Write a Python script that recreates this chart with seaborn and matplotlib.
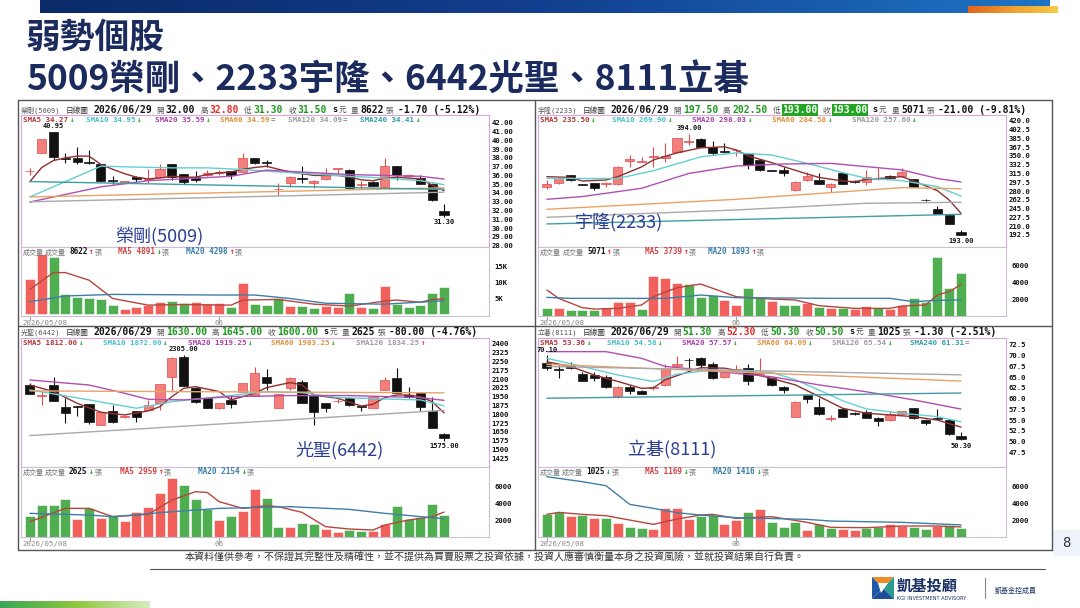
import numpy as np
import pandas as pd
import matplotlib
matplotlib.use("Agg")
import matplotlib.pyplot as plt
import seaborn as sns
from matplotlib.colors import LinearSegmentedColormap
from matplotlib.patches import Rectangle, Polygon
from matplotlib.lines import Line2D

# ------------------------------------------------------------------ DATA
title_1 = "弱勢個股"
title_2 = "5009榮剛、2233宇隆、6442光聖、8111立碁"
disclaimer = "本資料僅供參考，不保證其完整性及精確性，並不提供為買賣股票之投資依據，投資人應審慎衡量本身之投資風險，並就投資結果自行負責。"
date_str = "2026/06/29"
x_tick_pos = [0, 16]
x_tick_lab = ["2026/05/08", "06"]

# ---- 榮剛(5009)
p1_name = "榮剛(5009)"
p1_open = [36.45, 38.6, 40.95, 38.0, 38.0, 37.5, 37.3, 35.5, 35.25, 35.8, 35.45, 35.8, 37.25, 36.15, 35.8, 36.0, 36.25, 36.5,
           36.4, 37.95, 37.5, 34.4, 35.1, 35.7, 35.15, 35.6, 36.7, 36.65, 34.95, 35.3, 34.7, 37.05, 35.95, 35.7, 35.0, 32.0]
p1_high = [36.8, 40.2, 40.95, 38.6, 39.2, 38.9, 37.3, 35.9, 35.4, 35.9, 36.7, 37.25, 37.25, 36.15, 36.5, 36.65, 36.6, 36.5,
           38.6, 38.0, 37.8, 35.1, 35.9, 37.05, 35.5, 36.9, 36.85, 36.7, 35.4, 35.35, 37.95, 37.05, 36.2, 36.0, 35.1, 32.8]
p1_low = [36.1, 38.6, 37.7, 37.45, 37.25, 37.25, 35.3, 35.0, 35.1, 35.2, 35.1, 35.8, 35.5, 35.0, 35.3, 35.9, 36.0, 35.6,
          36.4, 37.3, 36.95, 33.75, 34.7, 35.1, 34.6, 35.5, 36.15, 34.5, 34.45, 34.8, 34.7, 35.5, 35.8, 35.0, 33.1, 31.3]
p1_close = [36.55, 40.2, 38.1, 37.9, 37.55, 37.4, 35.4, 35.4, 35.35, 35.6, 35.55, 36.7, 35.8, 35.25, 35.5, 36.3, 36.35, 36.0,
            38.0, 37.45, 37.4, 34.5, 35.8, 35.6, 35.4, 36.3, 36.8, 34.55, 35.05, 34.85, 37.05, 36.0, 36.05, 35.0, 33.2, 31.5]
p1_vol = [11200, 19000, 18200, 6300, 5600, 5300, 4800, 2900, 1700, 2400, 2900, 4000, 4300, 3500, 3800, 3200, 3500, 2200,
          9800, 3300, 2900, 5300, 2700, 2600, 1900, 2700, 2200, 6600, 2200, 1900, 8900, 3200, 2400, 2900, 6800, 8622]
p1_vdir = list("RRGGGGGGRRRRGGRRRGRGGGRGGRRGRGRGGGGG")
p1_sma5_x = list(range(36))
p1_sma5 = [35.3, 36.9, 37.7, 38.0, 38.2, 38.2, 37.25, 36.7, 36.2, 35.8, 35.6, 35.7, 35.9, 35.8, 35.8, 36.1, 36.3, 36.4,
           36.7, 36.9, 37.05, 36.7, 36.4, 36.2, 36.0, 36.0, 36.0, 35.8, 35.5, 35.4, 35.7, 35.8, 35.7, 35.6, 34.9, 34.27]
p1_sma10_x = [0, 3, 6, 9, 12, 15, 18, 21, 24, 27, 30, 33, 35]
p1_sma10 = [33.55, 35.3, 37.05, 36.95, 36.86, 36.86, 36.67, 36.4, 36.16, 35.9, 35.7, 35.4, 34.95]
p1_sma20_x = [0, 6, 10, 17, 20, 27, 33, 35]
p1_sma20 = [32.97, 34.7, 35.4, 35.9, 36.6, 36.1, 35.9, 35.59]
p1_sma60 = [33.55, 34.59]
p1_sma120 = [33.0, 34.09]
p1_sma240 = [35.3, 34.41]
p1_vma5_x = [0, 2, 3, 5, 7, 10, 13, 17, 18, 21, 24, 27, 30, 31, 33, 34, 35]
p1_vma5 = [7900, 13200, 13200, 10800, 5000, 2900, 3100, 2900, 4500, 4700, 3200, 2600, 4200, 4500, 3800, 4700, 4891]
p1_vma20_x = [0, 3, 7, 16, 19, 22, 25, 30, 35]
p1_vma20 = [4000, 5800, 6300, 6100, 6100, 5000, 3500, 3200, 4298]
p1_yticks = [28, 29, 30, 31, 32, 33, 34, 35, 36, 37, 38, 39, 40, 41, 42]
p1_vticks = [5000, 10000, 15000]
p1_vticklabels = ["5K", "10K", "15K"]

# ---- 宇隆(2233)
p2_name = "宇隆(2233)"
p2_open = [289, 295, 311, 293, 295, 294, 294, 339, 338, 348, 345, 358, 377, 383, 367, 360, 361, 354,
           342, 321, 322, 282, 301, 302, 288, 315, 300, 297, 304, 310, 309, 303, 263, 245, 233, 197.5]
p2_high = [302, 307, 312, 294, 296, 297, 329, 352, 348, 368, 375, 386, 394, 385, 380, 375, 363, 355,
           343, 322, 328.5, 299, 318.6, 315, 295, 316, 301, 322, 325, 311, 325, 304, 265, 250, 233, 202.5]
p2_low = [283.5, 294, 300, 291, 283, 288, 292, 328, 338, 328, 338, 356, 371.6, 367, 352, 356, 350, 323,
          320, 319, 310, 281, 300, 293, 279, 293, 296, 292, 302, 304, 308, 288, 260, 234, 214, 193]
p2_close = [294, 305, 301, 292, 286, 296, 328, 343, 339, 349, 350, 385, 379, 368, 356, 358, 362, 332,
            321, 320, 315, 298.5, 310, 294, 294, 294, 297, 307, 306, 305, 318, 289, 262, 235, 214, 193]
p2_vol = [960, 880, 680, 680, 680, 880, 1680, 1600, 800, 4760, 4560, 3880, 3800, 2280, 2480, 1880, 1280, 3360,
          2200, 1800, 1280, 1280, 1480, 1000, 960, 880, 760, 1160, 960, 760, 1280, 2160, 1600, 7000, 3360, 5071]
p2_vdir = list("GRGGGRRRGRRRGGGRRGGRGGRGRGRRGRRGGGGG")
p2_sma5_x = [0, 2, 3, 5, 6, 8, 9, 11, 13, 15, 16, 17, 19, 20, 22, 23, 25, 26, 27, 29, 30, 31, 33, 34, 35]
p2_sma5 = [308.6, 307, 300, 302, 308.6, 328, 341.8, 356, 366, 368, 361.7, 350, 336.5, 328.5, 314, 307, 300, 298.6,
           303, 306.6, 308.6, 300, 280.8, 262, 235.5]
p2_sma10_x = [0, 6, 9, 13, 16, 19, 22, 25, 27, 30, 33, 35]
p2_sma10 = [305, 305, 320.5, 348, 356, 351.7, 335, 316.6, 305.3, 300.7, 288.7, 269.9]
p2_sma20_x = [0, 3, 8, 12, 16, 20, 24, 27, 30, 33, 35]
p2_sma20 = [263.5, 269, 285.4, 315, 329.8, 333.8, 335, 328.5, 322, 305, 298]
p2_sma60_x = [0, 16, 24, 30, 35]
p2_sma60 = [243.6, 263.5, 276.8, 286.7, 284.5]
p2_sma120_x = [0, 16, 27, 35]
p2_sma120 = [227.7, 242.3, 255.6, 257.6]
p2_sma240 = [214.5, 233.7]
p2_vma5_x = [0, 1, 3, 4, 6, 8, 9, 11, 13, 16, 19, 21, 23, 26, 29, 30, 32, 33, 34, 35]
p2_vma5 = [3080, 2080, 960, 800, 880, 1280, 2280, 3360, 3800, 2280, 2000, 1880, 1200, 880, 880, 1160, 1280, 2480, 2880, 3739]
p2_vma20_x = [0, 2, 10, 13, 16, 24, 29, 31, 33, 35]
p2_vma20 = [2200, 2080, 2080, 2480, 2160, 2080, 2080, 1680, 1840, 1893]
p2_yticks = [192.5, 210.0, 227.5, 245.0, 262.5, 280.0, 297.5, 315.0, 332.5, 350.0, 367.5, 385.0, 402.5, 420.0]
p2_vticks = [2000, 4000, 6000]
p2_vticklabels = ["2000", "4000", "6000"]

# ---- 光聖(6442)
p3_name = "光聖(6442)"
p3_open = [2050, 1955, 2050, 1866, 1868, 1889, 1710, 1829, 1778, 1829, 1838, 1894, 2121, 2286, 2028, 1943, 1857, 1923,
           1994, 1960, 2121, 1852, 2022, 2073, 1960, 1894, 1912, 1943, 1868, 1857, 2008, 2107, 1965, 1980, 1829, 1630]
p3_high = [2065, 2000, 2121, 1937, 1870, 1890, 1820, 1880, 1795, 1830, 1923, 2057, 2285, 2305, 2035, 1945, 1895, 1957,
           2065, 2207, 2184, 1972, 2115, 2093, 1962, 1895, 1930, 1945, 1870, 1952, 2121, 2193, 2036, 1985, 1951, 1645]
p3_low = [1970, 1880, 1914, 1724, 1789, 1715, 1705, 1730, 1770, 1738, 1836, 1837, 1994, 2045, 1900, 1850, 1845, 1857,
          1990, 1960, 2008, 1850, 2010, 1894, 1710, 1818, 1900, 1875, 1829, 1850, 2005, 1978, 1940, 1829, 1681, 1575]
p3_close = [1971, 1962, 1914, 1809, 1865, 1738, 1818, 1738, 1783, 1781, 1880, 2056, 2278, 2045, 1903, 1852, 1894, 1886,
            2065, 2150, 2065, 1971, 2107, 1894, 1823, 1857, 1916, 1880, 1865, 1951, 2093, 1980, 1945, 1866, 1681, 1600]
p3_vol = [2520, 3800, 3800, 4480, 2120, 3480, 2280, 2600, 1880, 2920, 3600, 5280, 7080, 6200, 4520, 3280, 2000, 2520,
          3080, 5720, 4600, 1160, 1120, 1680, 1520, 880, 600, 760, 680, 720, 1520, 3720, 2120, 2400, 3920, 2625]
p3_vdir = list("GGGGRGRGRRRRRGGGRGRRGGRGGRRGGRRGGGGG")
p3_sma5_x = [0, 2, 4, 6, 8, 10, 11, 12, 13, 14, 16, 17, 19, 20, 22, 23, 24, 26, 28, 29, 30, 31, 32, 33, 34, 35]
p3_sma5 = [2050, 1994, 1894, 1818, 1795, 1829, 1866, 1951, 2022, 2036, 1994, 1923, 1980, 2028, 2071, 2050, 1965, 1937,
           1871, 1886, 1943, 1965, 1965, 1951, 1908, 1812]
p3_sma10_x = [0, 5, 9, 12, 16, 20, 23, 26, 30, 33, 35]
p3_sma10 = [2008, 1923, 1852, 1908, 1951, 1994, 1985, 1943, 1931, 1923, 1872]
p3_sma20_x = [0, 5, 8, 10, 13, 17, 22, 27, 33, 35]
p3_sma20 = [2093, 2050, 1980, 1928, 1923, 1951, 1960, 1960, 1943, 1919]
p3_sma60_x = [0, 12, 35]
p3_sma60 = [2000, 1994, 1983]
p3_sma120 = [1619, 1834]
p3_vma5_x = [0, 3, 5, 7, 10, 12, 14, 15, 16, 18, 20, 21, 23, 25, 27, 29, 30, 32, 34, 35]
p3_vma5 = [1800, 3400, 3400, 2400, 2680, 4400, 5400, 5300, 4200, 3400, 3720, 3600, 2920, 1200, 920, 800, 1400, 2000, 2400, 2959]
p3_vma20_x = [0, 5, 7, 12, 16, 22, 27, 30, 35]
p3_vma20 = [2800, 2600, 2400, 3000, 3400, 3600, 3280, 2800, 2154]
p3_yticks = [1425, 1500, 1575, 1650, 1725, 1800, 1875, 1950, 2025, 2100, 2175, 2250, 2325, 2400]
p3_vticks = [2000, 4000, 6000]
p3_vticklabels = ["2000", "4000", "6000"]

# ---- 立碁(8111)
p4_name = "立碁(8111)"
p4_open = [68.2, 66.8, 67.7, 65.75, 65.4, 65.1, 60.5, 62.8, 61.8, 62.5, 63.2, 67.5, 69.1, 69.55, 68.0, 65.1, 66.6, 67.1,
           65.85, 64.74, 62.8, 55.8, 60.86, 58.15, 55.3, 57.5, 56.7, 56.8, 55.6, 55.0, 56.4, 57.75, 55.0, 55.5, 55.0, 51.3]
p4_high = [70.1, 67.85, 68.6, 66.3, 66.3, 65.5, 63.0, 63.2, 62.0, 63.0, 68.0, 70.0, 69.4, 69.6, 68.5, 66.5, 67.85, 68.0,
           69.4, 65.0, 62.9, 59.5, 61.0, 60.1, 56.2, 57.6, 57.0, 57.4, 55.7, 57.1, 57.2, 57.8, 55.2, 57.6, 55.2, 52.3]
p4_low = [66.7, 64.7, 66.8, 64.0, 64.1, 62.5, 60.2, 61.0, 61.0, 62.1, 63.0, 67.4, 66.7, 67.1, 64.5, 64.8, 66.2, 63.2,
          65.8, 63.0, 61.2, 55.8, 58.9, 56.3, 54.8, 55.7, 56.3, 55.5, 53.7, 54.9, 56.3, 55.3, 53.9, 55.2, 51.5, 50.3]
p4_close = [67.1, 66.6, 67.1, 64.2, 64.8, 62.6, 62.8, 61.7, 61.1, 62.7, 67.1, 68.0, 68.9, 67.9, 64.8, 66.3, 66.8, 64.0,
            65.95, 63.2, 62.0, 59.1, 59.9, 56.4, 55.5, 55.8, 56.5, 55.6, 54.8, 56.4, 57.1, 55.4, 54.3, 55.3, 51.8, 50.5]
p4_vol = [2680, 3000, 2520, 2600, 2280, 2200, 1680, 1200, 1080, 920, 3400, 3480, 2120, 2520, 2600, 1520, 2000, 2920,
          3280, 1800, 1120, 1720, 800, 1480, 1080, 880, 800, 1080, 1160, 1520, 1280, 1200, 920, 1320, 1400, 1025]
p4_vdir = list("GGRGRGRGGRRRRGGRRGRGGGRGGRRGGRRGGRGG")
p4_sma5_x = [0, 2, 4, 6, 8, 9, 10, 12, 13, 15, 17, 19, 21, 23, 25, 27, 29, 31, 33, 35]
p4_sma5 = [68.6, 67.5, 65.5, 64.0, 62.4, 62.5, 64.4, 66.3, 67.2, 67.1, 66.1, 64.7, 63.2, 60.5, 57.75, 56.6, 56.2, 55.8, 55.0, 53.36]
p4_sma10_x = [0, 3, 6, 9, 11, 14, 16, 19, 21, 23, 25, 27, 30, 33, 35]
p4_sma10 = [69.4, 67.5, 65.5, 64.0, 65.7, 66.7, 66.3, 66.1, 64.4, 62.0, 59.5, 57.6, 56.6, 55.8, 54.58]
p4_sma20_x = [0, 5, 8, 10, 13, 16, 19, 23, 27, 31, 35]
p4_sma20 = [70.95, 70.95, 69.4, 67.5, 66.7, 65.9, 65.1, 63.2, 61.6, 59.7, 57.57]
p4_sma60 = [68.0, 64.09]
p4_sma120 = [67.5, 65.54]
p4_sma240 = [60.1, 61.31]
p4_vma5_x = [0, 1, 3, 5, 7, 9, 11, 13, 14, 16, 19, 22, 24, 27, 30, 33, 35]
p4_vma5 = [2680, 2920, 2680, 2520, 2000, 1480, 2120, 2600, 2680, 2200, 2400, 1720, 1120, 1080, 1280, 1280, 1169]
p4_vma20_x = [0, 3, 5, 7, 9, 11, 13, 16, 22, 24, 30, 35]
p4_vma20 = [7200, 6600, 6120, 3880, 3400, 2880, 2600, 2280, 2080, 1880, 1720, 1416]
p4_yticks = [47.5, 50.0, 52.5, 55.0, 57.5, 60.0, 62.5, 65.0, 67.5, 70.0, 72.5]
p4_vticks = [2000, 4000, 6000]
p4_vticklabels = ["2000", "4000", "6000"]

# ------------------------------------------------------------------ STYLE
sns.set_theme(style="white")
CJK = ["Noto Sans CJK TC", "DejaVu Sans"]
MONO = ["DejaVu Sans Mono", "Noto Sans CJK TC"]
plt.rcParams["font.family"] = CJK
plt.rcParams["axes.unicode_minus"] = False

W, H = 1080, 608
UP_BODY, UP_EDGE, DN_BODY = "#f37f7c", "#e04c4c", "#111111"
VOL_R, VOL_G = "#f2605c", "#4fae4f"
LINE_C = {"SMA5": "#8e2f2f", "SMA10": "#62cfd2", "SMA20": "#b04fb0",
          "SMA60": "#e8a268", "SMA120": "#a9a9a9", "SMA240": "#3f9ea3"}
LEG_C = {"SMA5": "#b23434", "SMA10": "#45c0c8", "SMA20": "#a63ea6",
         "SMA60": "#e0903a", "SMA120": "#9a9a9a", "SMA240": "#2f9fa8"}
VMA5_C, VMA20_C = "#b6473f", "#3f7fa6"
TR, TG = "#e02b2b", "#1f9a1f"
NAVY = "#1b2b5e"

fig = plt.figure(figsize=(W / 100, H / 100), dpi=100)
fig.patch.set_facecolor("white")
renderer = fig.canvas.get_renderer()


def fax(x0, y0, x1, y1, **kw):
    return fig.add_axes([x0 / W, 1 - y1 / H, (x1 - x0) / W, (y1 - y0) / H], **kw)


def ftext(x, y, s, **kw):
    return fig.text(x / W, 1 - y / H, s, **kw)


def fline(xs, ys, **kw):
    fig.add_artist(Line2D([v / W for v in xs], [1 - v / H for v in ys], **kw))


def seq(x, y, parts):
    # parts: (text, color, size, weight, gap_after, bg)
    for s, color, size, weight, gap, bg in parts:
        kw = {}
        if bg is not None:
            kw["bbox"] = dict(facecolor=bg, edgecolor="none", pad=0.4)
        t = ftext(x, y, s, color=color, fontsize=size, fontweight=weight, family=MONO,
                  ha="left", va="center", **kw)
        x += t.get_window_extent(renderer).width + gap
    return x


# ------------------------------------------------------------------ PAGE DECOR
top = fax(40, 0, 1050, 13)
top.imshow(np.linspace(0, 1, 256)[None, :], aspect="auto",
           cmap=LinearSegmentedColormap.from_list("b", ["#0a2a68", "#123f8f", "#1f74c4"]))
top.set_axis_off()
org = fax(968, 6, 1058, 13)
org.imshow(np.linspace(0, 1, 64)[None, :], aspect="auto",
           cmap=LinearSegmentedColormap.from_list("o", ["#e0641c", "#f0a030", "#f7c948"]))
org.set_axis_off()
grn = fax(0, 601, 150, 608)
grn.imshow(np.linspace(0, 1, 64)[None, :], aspect="auto",
           cmap=LinearSegmentedColormap.from_list("g", ["#3aa657", "#8dc63f", "#d8ecc0"]))
grn.set_axis_off()

ftext(26, 37, title_1, fontsize=25, fontweight="bold", color=NAVY, family=CJK, va="center", ha="left")
ftext(26, 79, title_2, fontsize=25.5, fontweight="bold", color=NAVY, family=CJK, va="center", ha="left")

# panel frame
fline([18, 1052], [100, 100], color="#555555", lw=1.0)
fline([18, 1052], [326, 326], color="#555555", lw=1.0)
fline([18, 1052], [550, 550], color="#555555", lw=1.0)
for xv in (18, 535, 1052):
    fline([xv, xv], [100, 550], color="#555555", lw=1.0)

# page number / footer
fig.add_artist(Rectangle((1053 / W, 1 - 556 / H), 27 / W, 26 / H, transform=fig.transFigure,
                         facecolor="#eef4fa", edgecolor="none"))
ftext(1062, 543, "8", fontsize=10, color="#333333", family=MONO, va="center", ha="left")
ftext(185, 558, disclaimer, fontsize=7.2, color="#333333", family=CJK, va="center", ha="left")
fline([150, 1045], [569, 569], color="#555555", lw=0.8)
# logo
lx, ly, ls = 872, 577, 22
sq = [(lx, ly), (lx + ls, ly), (lx + ls, ly + ls), (lx, ly + ls)]
def P(pts, c):
    fig.add_artist(Polygon([(a / W, 1 - b / H) for a, b in pts], closed=True, transform=fig.transFigure,
                           facecolor=c, edgecolor="none"))
P([sq[0], sq[1], (lx + ls / 2, ly + ls / 2)], "#f08a24")
P([sq[1], sq[2], (lx + ls / 2, ly + ls / 2)], "#2a9d8f")
P([sq[2], sq[3], (lx + ls / 2, ly + ls / 2)], "#1c4f96")
P([sq[3], sq[0], (lx + ls / 2, ly + ls / 2)], "#1c5aa6")
P([(lx + 6, ly + 6), (lx + 16, ly + 6), (lx + 9, ly + 16)], "white")
ftext(897, 586, "凱基投顧", fontsize=11, fontweight="bold", color="#1c3264", family=CJK, va="center", ha="left")
ftext(897, 598, "KGI INVESTMENT ADVISORY", fontsize=3.6, color="#1c3264", family=["DejaVu Sans"], va="center", ha="left")
fline([985, 985], [578, 598], color="#888888", lw=0.8)
ftext(995, 591, "凱基金控成員", fontsize=5, color="#1c3264", family=CJK, va="center", ha="left")

# ------------------------------------------------------------------ PANELS
def ma_full(a, b):
    return ([0, 35], [a, b])

panels = [
    dict(ox=18, row=0, name=p1_name, o=p1_open, h=p1_high, l=p1_low, c=p1_close, vol=p1_vol, vdir=p1_vdir,
         ylim=(27.85, 42.88), yticks=p1_yticks, yfmt="{:.2f}", vylim=(-540, 21300),
         vticks=p1_vticks, vticklabels=p1_vticklabels,
         ma=[("SMA5", p1_sma5_x, p1_sma5), ("SMA10", p1_sma10_x, p1_sma10), ("SMA20", p1_sma20_x, p1_sma20),
             ("SMA60",) + ma_full(*p1_sma60), ("SMA120",) + ma_full(*p1_sma120), ("SMA240",) + ma_full(*p1_sma240)],
         vma5=(p1_vma5_x, p1_vma5), vma20=(p1_vma20_x, p1_vma20),
         fields=[("開", "32.00", "#111111", None), ("高", "32.80", TR, None), ("低", "31.30", TG, None), ("收", "31.50", TG, None)],
         qty="8622", chg="-1.70 (-5.12%)",
         leg=[("SMA5", "34.27", "↓"), ("SMA10", "34.95", "↓"), ("SMA20", "35.59", "↓"), ("SMA60", "34.59", "="),
              ("SMA120", "34.09", "="), ("SMA240", "34.41", "↓")], legx=[5, 68, 137, 202, 270, 342],
         vleg=[("8622", "↑"), ("4891", "↓"), ("4298", "↑")], vlegx=[5, 27, 100, 168],
         hi=(2, "40.95"), lo=(35, "31.30"), npos=(0.295, 0.085)),
    dict(ox=535, row=0, name=p2_name, o=p2_open, h=p2_high, l=p2_low, c=p2_close, vol=p2_vol, vdir=p2_vdir,
         ylim=(168.6, 431.3), yticks=p2_yticks, yfmt="{:.1f}", vylim=(-36, 8244),
         vticks=p2_vticks, vticklabels=p2_vticklabels,
         ma=[("SMA5", p2_sma5_x, p2_sma5), ("SMA10", p2_sma10_x, p2_sma10), ("SMA20", p2_sma20_x, p2_sma20),
             ("SMA60", p2_sma60_x, p2_sma60), ("SMA120", p2_sma120_x, p2_sma120), ("SMA240",) + ma_full(*p2_sma240)],
         vma5=(p2_vma5_x, p2_vma5), vma20=(p2_vma20_x, p2_vma20),
         fields=[("開", "197.50", TG, None), ("高", "202.50", TG, None), ("低", "193.00", "white", "#22a522"),
                 ("收", "193.00", "white", "#22a522")],
         qty="5071", chg="-21.00 (-9.81%)",
         leg=[("SMA5", "235.50", "↓"), ("SMA10", "269.90", "↓"), ("SMA20", "298.03", "↓"), ("SMA60", "284.58", "↓"),
              ("SMA120", "257.60", "↓")], legx=[5, 77, 157, 237, 317],
         vleg=[("5071", "↑"), ("3739", "↑"), ("1893", "↑")], vlegx=[5, 28, 110, 173],
         hi=(12, "394.00"), lo=(35, "193.00"), npos=(0.173, 0.18)),
    dict(ox=18, row=1, name=p3_name, o=p3_open, h=p3_high, l=p3_low, c=p3_close, vol=p3_vol, vdir=p3_vdir,
         ylim=(1350.8, 2451), yticks=p3_yticks, yfmt="{:.0f}", vylim=(-36, 8364),
         vticks=p3_vticks, vticklabels=p3_vticklabels,
         ma=[("SMA5", p3_sma5_x, p3_sma5), ("SMA10", p3_sma10_x, p3_sma10), ("SMA20", p3_sma20_x, p3_sma20),
             ("SMA60", p3_sma60_x, p3_sma60), ("SMA120",) + ma_full(*p3_sma120)],
         vma5=(p3_vma5_x, p3_vma5), vma20=(p3_vma20_x, p3_vma20),
         fields=[("開", "1630.00", TG, None), ("高", "1645.00", TG, None), ("收", "1600.00", TG, None)],
         qty="2625", chg="-80.00 (-4.76%)",
         leg=[("SMA5", "1812.00", "↓"), ("SMA10", "1872.00", "↓"), ("SMA20", "1919.25", "↓"), ("SMA60", "1983.25", "↓"),
              ("SMA120", "1834.25", "↑")], legx=[5, 85, 170, 253, 338],
         vleg=[("2625", "↓"), ("2959", "↑"), ("2154", "↓")], vlegx=[5, 27, 102, 180],
         hi=(13, "2305.00"), lo=(35, "1575.00"), npos=(0.68, 0.13)),
    dict(ox=535, row=1, name=p4_name, o=p4_open, h=p4_high, l=p4_low, c=p4_close, vol=p4_vol, vdir=p4_vdir,
         ylim=(44.07, 74.13), yticks=p4_yticks, yfmt="{:.1f}", vylim=(-36, 8364),
         vticks=p4_vticks, vticklabels=p4_vticklabels,
         ma=[("SMA5", p4_sma5_x, p4_sma5), ("SMA10", p4_sma10_x, p4_sma10), ("SMA20", p4_sma20_x, p4_sma20),
             ("SMA60",) + ma_full(*p4_sma60), ("SMA120",) + ma_full(*p4_sma120), ("SMA240",) + ma_full(*p4_sma240)],
         vma5=(p4_vma5_x, p4_vma5), vma20=(p4_vma20_x, p4_vma20),
         fields=[("開", "51.30", TG, None), ("高", "52.30", TR, None), ("低", "50.30", TG, None), ("收", "50.50", TG, None)],
         qty="1025", chg="-1.30 (-2.51%)",
         leg=[("SMA5", "53.36", "↓"), ("SMA10", "54.58", "↓"), ("SMA20", "57.57", "↓"), ("SMA60", "64.09", "↓"),
              ("SMA120", "65.54", "↓"), ("SMA240", "61.31", "=")], legx=[5, 72, 147, 222, 297, 375],
         vleg=[("1025", "↓"), ("1169", "↓"), ("1416", "↓")], vlegx=[5, 27, 110, 178],
         hi=(0, "70.10"), lo=(35, "50.30"), npos=(0.287, 0.13)),
]

ARROW_C = {"↓": TG, "↑": TR, "=": "#888888"}

for Pn in panels:
    ox, row = Pn["ox"], Pn["row"]
    if row == 0:
        hy, py0, py1, vy1 = 110, 115, 247, 316
    else:
        hy, py0, py1, vy1 = 332, 338, 467, 537
    x0, x1 = ox + 3, ox + 471
    axp = fax(x0, py0, x1, py1)
    axv = fax(x0, py1, x1, vy1)

    o, h, l, c = (np.asarray(Pn[k], dtype=float) for k in ("o", "h", "l", "c"))
    idx = np.arange(len(o))
    up = c >= o
    rng = Pn["ylim"][1] - Pn["ylim"][0]
    body_lo = np.minimum(o, c)
    body_h = np.maximum(np.abs(c - o), rng * 0.004)
    fcols = np.where(up, UP_BODY, DN_BODY)
    ecols = np.where(up, UP_EDGE, DN_BODY)
    axp.vlines(idx, l, h, colors=ecols, linewidth=0.8, zorder=2)
    axp.bar(idx, body_h, bottom=body_lo, width=0.78, color=fcols, edgecolor=ecols, linewidth=0.5, zorder=3)

    for key, xs, ys in Pn["ma"]:
        sns.lineplot(x=xs, y=ys, ax=axp, color=LINE_C[key], linewidth=1.0, zorder=4)

    # high / low labels
    hi_i, hi_t = Pn["hi"]
    lo_i, lo_t = Pn["lo"]
    axp.annotate(hi_t, xy=(hi_i, h[hi_i]), xytext=(0, 2), textcoords="offset points", ha="center", va="bottom",
                 fontsize=5, fontweight="bold", family=MONO, color="#111111", zorder=6)
    axp.annotate(lo_t, xy=(lo_i, l[lo_i]), xytext=(0, -2), textcoords="offset points", ha="center", va="top",
                 fontsize=5, fontweight="bold", family=MONO, color="#111111", zorder=6)
    axp.text(Pn["npos"][0], Pn["npos"][1], Pn["name"], transform=axp.transAxes, ha="center", va="center",
             fontsize=13, color="#2c3e94", family=CJK, zorder=7)

    # volume
    vdf = pd.DataFrame({"day": idx, "vol": Pn["vol"], "dir": Pn["vdir"]})
    sns.barplot(data=vdf, x="day", y="vol", hue="dir", palette={"R": VOL_R, "G": VOL_G}, native_scale=True,
                dodge=False, width=0.84, legend=False, errorbar=None, saturation=1, edgecolor="#ffffff",
                linewidth=0.4, ax=axv)
    sns.lineplot(x=Pn["vma5"][0], y=Pn["vma5"][1], ax=axv, color=VMA5_C, linewidth=1.0, zorder=5)
    sns.lineplot(x=Pn["vma20"][0], y=Pn["vma20"][1], ax=axv, color=VMA20_C, linewidth=1.0, zorder=5)

    for ax in (axp, axv):
        ax.set_xlim(-0.75, 38.8)
        ax.set_xlabel("")
        ax.set_ylabel("")
        ax.set_facecolor("white")
        ax.grid(False)
        ax.yaxis.tick_right()
    axp.set_ylim(*Pn["ylim"])
    axp.set_yticks(Pn["yticks"])
    axp.set_yticklabels([Pn["yfmt"].format(v) for v in Pn["yticks"]])
    axp.set_xticks([])
    axp.tick_params(axis="y", length=0, pad=2, labelsize=5.2, labelcolor="#111111")
    for sp in axp.spines.values():
        sp.set_color("#d9a6d9")
        sp.set_linewidth(0.8)

    axv.set_ylim(*Pn["vylim"])
    axv.set_yticks(Pn["vticks"])
    axv.set_yticklabels(Pn["vticklabels"])
    axv.tick_params(axis="y", length=0, pad=4, labelsize=5.2, labelcolor="#111111")
    axv.set_xticks(x_tick_pos)
    axv.set_xticklabels(["", ""])
    axv.tick_params(axis="x", length=3, width=0.6, color="#888888", bottom=True, direction="out")
    for sp in axv.spines.values():
        sp.set_color("#cdbfd6")
        sp.set_linewidth(0.8)
    for t in axp.get_yticklabels() + axv.get_yticklabels():
        t.set_fontfamily(MONO)
        t.set_fontweight("bold")
    axv.annotate(x_tick_lab[0], xy=(x_tick_pos[0], 0), xycoords=("data", "axes fraction"), xytext=(-5, -3),
                 textcoords="offset points", ha="left", va="top", fontsize=5.3, color="#888888", family=MONO)
    axv.annotate(x_tick_lab[1], xy=(x_tick_pos[1], 0), xycoords=("data", "axes fraction"), xytext=(0, -3),
                 textcoords="offset points", ha="center", va="top", fontsize=5.3, color="#888888", family=MONO)

    # header line
    parts = [(Pn["name"], "#555555", 5, "normal", 5, None), ("日線圖", "#333333", 5.5, "normal", 5, None),
             (date_str, "#111111", 7, "bold", 4, None)]
    for lab, val, col, bg in Pn["fields"]:
        parts.append((lab, "#555555", 5.5, "normal", 2, None))
        parts.append((val, col, 7, "bold", 5, bg))
    parts += [("s", "#111111", 6, "bold", 1, None), ("元", "#555555", 5.5, "normal", 5, None),
              ("量", "#555555", 5.5, "normal", 2, None), (Pn["qty"], "#111111", 7, "bold", 2, None),
              ("張", "#555555", 5.5, "normal", 4, None), (Pn["chg"], "#111111", 7, "bold", 0, None)]
    seq(ox + 3, hy, parts)

    # SMA legend (inside price box)
    for (key, val, arr), rx in zip(Pn["leg"], Pn["legx"]):
        seq(ox + rx, py0 + 5, [(key + " " + val, LEG_C[key], 5.4, "bold", 1, None),
                                (arr, ARROW_C[arr], 5.4, "bold", 0, None)])

    # volume legend
    vy = py1 + 5
    vx = Pn["vlegx"]
    seq(ox + vx[0], vy, [("成交量", "#777777", 5, "normal", 0, None)])
    seq(ox + vx[1], vy, [("成交量", "#777777", 5, "normal", 3, None), (Pn["vleg"][0][0], "#111111", 5.6, "bold", 1, None),
                          (Pn["vleg"][0][1], ARROW_C[Pn["vleg"][0][1]], 5.6, "bold", 1, None),
                          ("張", "#777777", 5, "normal", 0, None)])
    seq(ox + vx[2], vy, [("MA5 " + Pn["vleg"][1][0], "#d04545", 5.6, "bold", 1, None),
                          (Pn["vleg"][1][1], ARROW_C[Pn["vleg"][1][1]], 5.6, "bold", 1, None),
                          ("張", "#777777", 5, "normal", 0, None)])
    seq(ox + vx[3], vy, [("MA20 " + Pn["vleg"][2][0], "#3a7fa8", 5.6, "bold", 1, None),
                          (Pn["vleg"][2][1], ARROW_C[Pn["vleg"][2][1]], 5.6, "bold", 1, None),
                          ("張", "#777777", 5, "normal", 0, None)])

fig.savefig("out.png", dpi=100, facecolor="white")
